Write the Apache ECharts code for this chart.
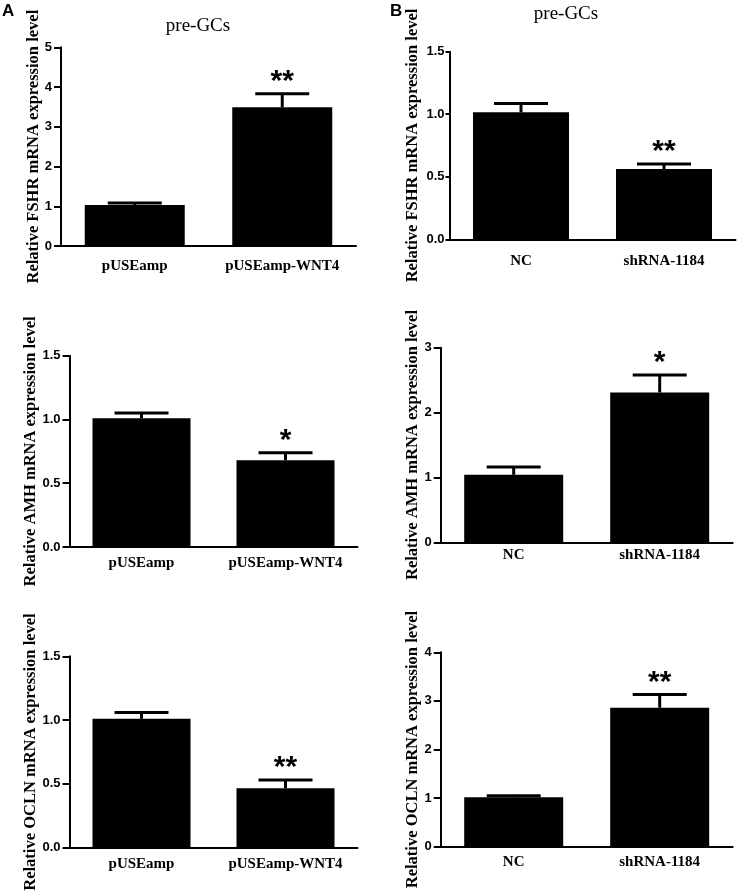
<!DOCTYPE html>
<html>
<head>
<meta charset="utf-8">
<script src="https://cdn.jsdelivr.net/npm/echarts@6/dist/echarts.min.js"></script>
<style>
html,body{margin:0;padding:0;background:#fff;}
#chart{width:739px;height:895px;}
</style>
</head>
<body>
<div id="chart"></div>
<script>
// ---- data ----
var categoriesA = ['pUSEamp', 'pUSEamp-WNT4'];
var categoriesB = ['NC', 'shRNA-1184'];

var fshrA = [1.03, 3.49];
var fshrAErr = [0.05, 0.34];
var fshrASig = ['', '**'];

var fshrB = [1.015, 0.562];
var fshrBErr = [0.07, 0.04];
var fshrBSig = ['', '**'];

var amhA = [1.01, 0.68];
var amhAErr = [0.04, 0.06];
var amhASig = ['', '*'];

var amhB = [1.04, 2.31];
var amhBErr = [0.12, 0.27];
var amhBSig = ['', '*'];

var oclnA = [1.01, 0.466];
var oclnAErr = [0.05, 0.065];
var oclnASig = ['', '**'];

var oclnB = [1.02, 2.86];
var oclnBErr = [0.03, 0.27];
var oclnBSig = ['', '**'];

var yNames = [
  'Relative FSHR mRNA expression level',
  'Relative FSHR mRNA expression level',
  'Relative AMH mRNA expression level',
  'Relative AMH mRNA expression level',
  'Relative OCLN mRNA expression level',
  'Relative OCLN mRNA expression level'
];
var yMax = [5, 1.5, 1.5, 3, 1.5, 4];
var yInterval = [1, 0.5, 0.5, 1, 0.5, 1];

// ---- layout / style ----
var SERIF = 'Liberation Serif, Times New Roman, serif';
var SANS = 'Liberation Sans, Arial, sans-serif';

var panels = [
  {cats: categoriesA, vals: fshrA, err: fshrAErr, sig: fshrASig,
   grid: {left: 61, top: 47.3, width: 295, height: 198.7}, barW: 100, nameGap: 19, labelMargin: 13, yTick: 7, yMargin: 9},
  {cats: categoriesB, vals: fshrB, err: fshrBErr, sig: fshrBSig,
   grid: {left: 449.5, top: 51.7, width: 286, height: 187.6}, barW: 96, nameGap: 28, labelMargin: 14, yTick: 4, yMargin: 5},
  {cats: categoriesA, vals: amhA, err: amhAErr, sig: amhASig,
   grid: {left: 69.5, top: 355.7, width: 288, height: 191.3}, barW: 98, nameGap: 30, labelMargin: 9, yTick: 7, yMargin: 9},
  {cats: categoriesB, vals: amhB, err: amhBErr, sig: amhBSig,
   grid: {left: 440.7, top: 347.7, width: 292, height: 194.6}, barW: 99, nameGap: 19.5, labelMargin: 5, yTick: 7, yMargin: 9},
  {cats: categoriesA, vals: oclnA, err: oclnAErr, sig: oclnASig,
   grid: {left: 69.5, top: 656.3, width: 288, height: 191.4}, barW: 98, nameGap: 30, labelMargin: 9, yTick: 7, yMargin: 9},
  {cats: categoriesB, vals: oclnB, err: oclnBErr, sig: oclnBSig,
   grid: {left: 440.7, top: 652.3, width: 292, height: 194.4}, barW: 99, nameGap: 19.5, labelMargin: 8, yTick: 7, yMargin: 9}
];

var grids = [], xAxes = [], yAxes = [], series = [];

panels.forEach(function (p, i) {
  grids.push(p.grid);
  xAxes.push({
    type: 'category', gridIndex: i, data: p.cats,
    axisLine: {lineStyle: {color: '#000', width: 2}},
    axisTick: {alignWithLabel: true, length: 6, lineStyle: {color: '#000', width: 2}},
    axisLabel: {color: '#000', fontFamily: SERIF, fontWeight: 'bold', fontSize: 15, margin: p.labelMargin, interval: 0}
  });
  var dec = yInterval[i] < 1 ? 1 : 0;
  yAxes.push({
    type: 'value', gridIndex: i, min: 0, max: yMax[i], interval: yInterval[i],
    name: yNames[i], nameLocation: 'middle', nameGap: p.nameGap, nameMoveOverlap: false,
    nameTextStyle: {color: '#000', fontFamily: SERIF, fontWeight: 'bold', fontSize: 16.5},
    axisLine: {show: true, lineStyle: {color: '#000', width: 2}},
    axisTick: {show: true, length: p.yTick, lineStyle: {color: '#000', width: 2}},
    splitLine: {show: false},
    axisLabel: {color: '#000', fontFamily: SANS, fontWeight: 'bold', fontSize: 13, margin: p.yMargin,
      formatter: (function (d) { return function (v) { return v.toFixed(d); }; })(dec)}
  });
  series.push({
    type: 'bar', xAxisIndex: i, yAxisIndex: i, data: p.vals, barWidth: p.barW,
    itemStyle: {color: '#000'}, z: 2
  });
  var errData = p.vals.map(function (v, k) { return [k, v, p.err[k]]; });
  series.push({
    type: 'custom', xAxisIndex: i, yAxisIndex: i, data: errData, z: 3,
    encode: {x: 0, y: 1},
    renderItem: (function (pp) {
      return function (params, api) {
        var idx = api.value(0), m = api.value(1), e = api.value(2);
        var base = api.coord([idx, m]);
        var top = api.coord([idx, m + e]);
        var capHalf = 27;
        var children = [
          {type: 'line', shape: {x1: base[0], y1: base[1], x2: top[0], y2: top[1]},
           style: {stroke: '#000', lineWidth: 3}},
          {type: 'line', shape: {x1: top[0] - capHalf, y1: top[1], x2: top[0] + capHalf, y2: top[1]},
           style: {stroke: '#000', lineWidth: 3}}
        ];
        var s = pp.sig[params.dataIndex];
        if (s) {
          children.push({type: 'text', x: top[0], y: top[1] + 3,
            style: {text: s, fill: '#000', font: 'bold 30px ' + SANS, textAlign: 'center', textVerticalAlign: 'bottom'}});
        }
        return {type: 'group', children: children};
      };
    })(p)
  });
});

var chart = echarts.init(document.getElementById('chart'), null, {renderer: 'canvas'});
chart.setOption({
  animation: false,
  backgroundColor: '#fff',
  title: [
    {text: 'pre-GCs', left: 193, top: 12, textAlign: 'center',
     textStyle: {fontFamily: SERIF, fontWeight: 'normal', fontSize: 19, color: '#000'}},
    {text: 'pre-GCs', left: 561, top: 0, textAlign: 'center',
     textStyle: {fontFamily: SERIF, fontWeight: 'normal', fontSize: 19, color: '#000'}},
    {text: 'A', left: 2, top: 3, padding: 0,
     textStyle: {fontFamily: SANS, fontWeight: 'bold', fontSize: 17, color: '#000'}},
    {text: 'B', left: 390, top: 3, padding: 0,
     textStyle: {fontFamily: SANS, fontWeight: 'bold', fontSize: 17, color: '#000'}}
  ],
  grid: grids,
  xAxis: xAxes,
  yAxis: yAxes,
  series: series
});
</script>
</body>
</html>
